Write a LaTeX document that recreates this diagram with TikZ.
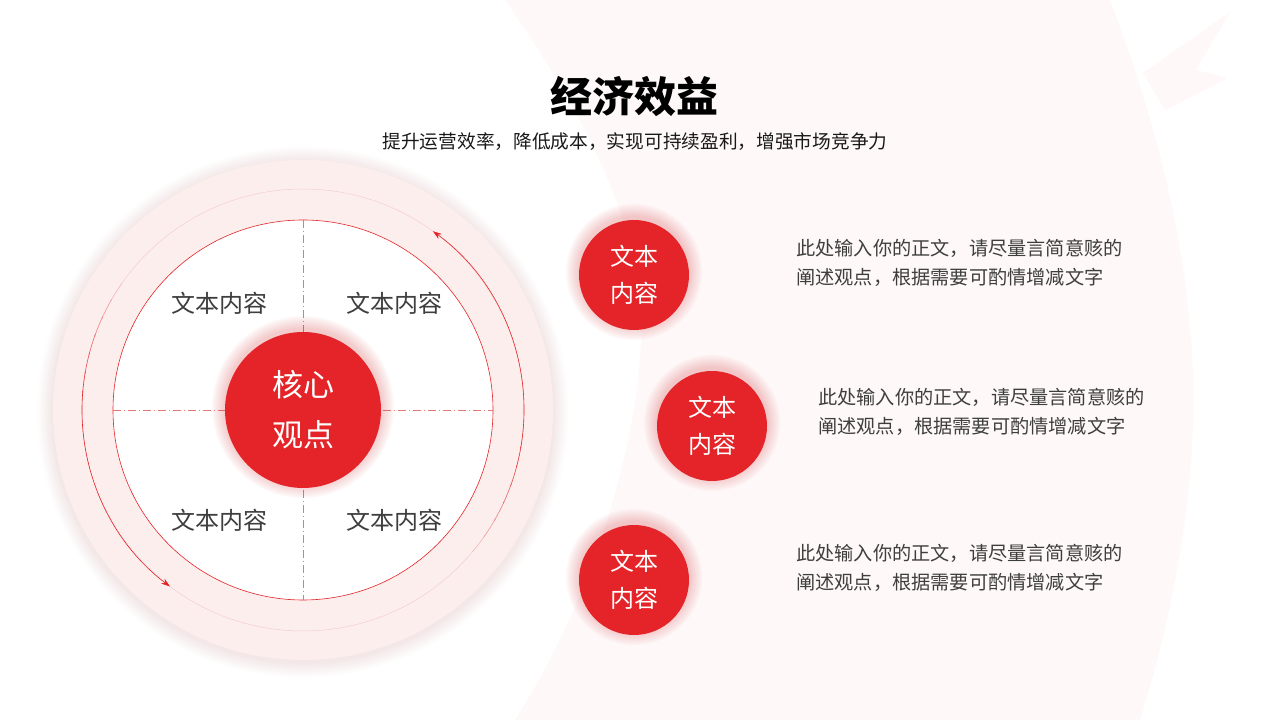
\documentclass[tikz,border=0pt]{standalone}
\usepackage{fontspec}
\newfontfamily\cjk{Noto Sans CJK SC}
\definecolor{mainred}{HTML}{E42428}
\definecolor{palebg}{HTML}{FEF8F8}
\definecolor{ringpink}{HTML}{FDEEEE}
\definecolor{ringline}{HTML}{F4CDCE}
\definecolor{textgray}{HTML}{3E3E3E}
\definecolor{dashred}{HTML}{E57779}
\tikzset{
  redball/.style={circle, fill=mainred, text=white, inner sep=0pt, align=center},
  quadlabel/.style={text=textgray, inner sep=0pt, font=\cjk\fontsize{24}{28}\selectfont},
  paratext/.style={text=textgray, inner sep=0pt, anchor=west, align=left, font=\cjk\fontsize{19.2}{29}\selectfont},
  arrowarc/.style={draw=mainred, line width=0.6pt, -{Stealth[length=9pt,width=6pt]}},
}
\usetikzlibrary{arrows.meta}
\begin{document}
\begin{tikzpicture}[x=1pt,y=1pt]
\useasboundingbox (0,0) rectangle (1280,720);
\fill[white] (0,0) rectangle (1280,720);
% pale background crescent
\fill[palebg] (505,720) .. controls (610,570) and (650,460) .. (640,360)
  .. controls (630,240) and (580,100) .. (515,0) -- (1140,0)
  .. controls (1190,160) and (1200,300) .. (1190,390)
  .. controls (1180,520) and (1140,640) .. (1110,720) -- cycle;
% faint top-right shape
\fill[mainred, opacity=0.03] (1230,708) -- (1143,647) -- (1165,610) -- (1228,642) -- (1196,650) -- cycle;

% title
\node[inner sep=0pt, font=\cjk\bfseries\fontsize{42}{46}\selectfont] (title) at (634,623) {经济效益};
\node[inner sep=0pt, text=black!90, font=\cjk\fontsize{18.7}{22}\selectfont] (subtitle) at (635,578) {提升运营效率，降低成本，实现可持续盈利，增强市场竞争力};

% big left circle with soft glow
\foreach \i in {1,...,12} {\fill[mainred, opacity=0.006] (303,308) circle ({250pt+\i*1.3pt});}
\fill[ringpink] (303,310) circle (250pt);
\draw[ringline, line width=0.5pt] (303,310) circle (221pt);
% fading red parts of the ring
\foreach \a/\o in {-40/0.15,-35/0.3,-30/0.45,-25/0.6,-20/0.75,-15/0.9} {
  \draw[mainred, line width=0.6pt, opacity=\o] (303,310) ++(\a:221pt) arc[start angle=\a, end angle=\a+5.5, radius=221pt];
}
\draw[arrowarc] (303,310) ++(-10:221pt) arc[start angle=-10, end angle=54, radius=221pt];
\foreach \a/\o in {145/0.15,150/0.3,155/0.45,160/0.6,165/0.75,170/0.9} {
  \draw[mainred, line width=0.6pt, opacity=\o] (303,310) ++(\a:221pt) arc[start angle=\a, end angle=\a+5.5, radius=221pt];
}
\draw[arrowarc] (303,310) ++(175:221pt) arc[start angle=175, end angle=233, radius=221pt];
\fill[white, draw=mainred, line width=0.6pt] (303,310) circle (190pt);
\draw[dashred, line width=0.6pt, dash pattern=on 8pt off 3pt on 1pt off 3pt] (303,500) -- (303,120);
\draw[dashred, line width=0.6pt, dash pattern=on 8pt off 3pt on 1pt off 3pt] (113,310) -- (493,310);

% quadrant labels
\node[quadlabel] (q1) at (219,417) {文本内容};
\node[quadlabel] (q2) at (394,417) {文本内容};
\node[quadlabel] (q3) at (219,200) {文本内容};
\node[quadlabel] (q4) at (394,200) {文本内容};

% core circle glow
\foreach \i in {1,...,12} {\fill[mainred, opacity=0.02] (303,313) circle ({78pt+\i*1.1pt});}
\node[redball, minimum size=156pt, font=\cjk\fontsize{31}{50}\selectfont] (core) at (303,310) {核心\\观点};

% right circles glow
\foreach \p in {(634,448),(712,297),(634,143)} {
  \foreach \i in {1,...,12} {\fill[mainred, opacity=0.018] \p circle ({55pt+\i*1.1pt});}
}
\node[redball, minimum size=110pt, font=\cjk\fontsize{24}{37}\selectfont] (b1) at (634,445) {文本\\内容};
\node[redball, minimum size=110pt, font=\cjk\fontsize{24}{37}\selectfont] (b2) at (712,294) {文本\\内容};
\node[redball, minimum size=110pt, font=\cjk\fontsize{24}{37}\selectfont] (b3) at (634,140) {文本\\内容};

% paragraphs
\node[paratext] (t1) at (796,457.5) {此处输入你的正文，请尽量言简意赅的\\阐述观点，根据需要可酌情增减文字};
\node[paratext] (t2) at (818,308.5) {此处输入你的正文，请尽量言简意赅的\\阐述观点，根据需要可酌情增减文字};
\node[paratext] (t3) at (796,152.5) {此处输入你的正文，请尽量言简意赅的\\阐述观点，根据需要可酌情增减文字};
\end{tikzpicture}
\end{document}
